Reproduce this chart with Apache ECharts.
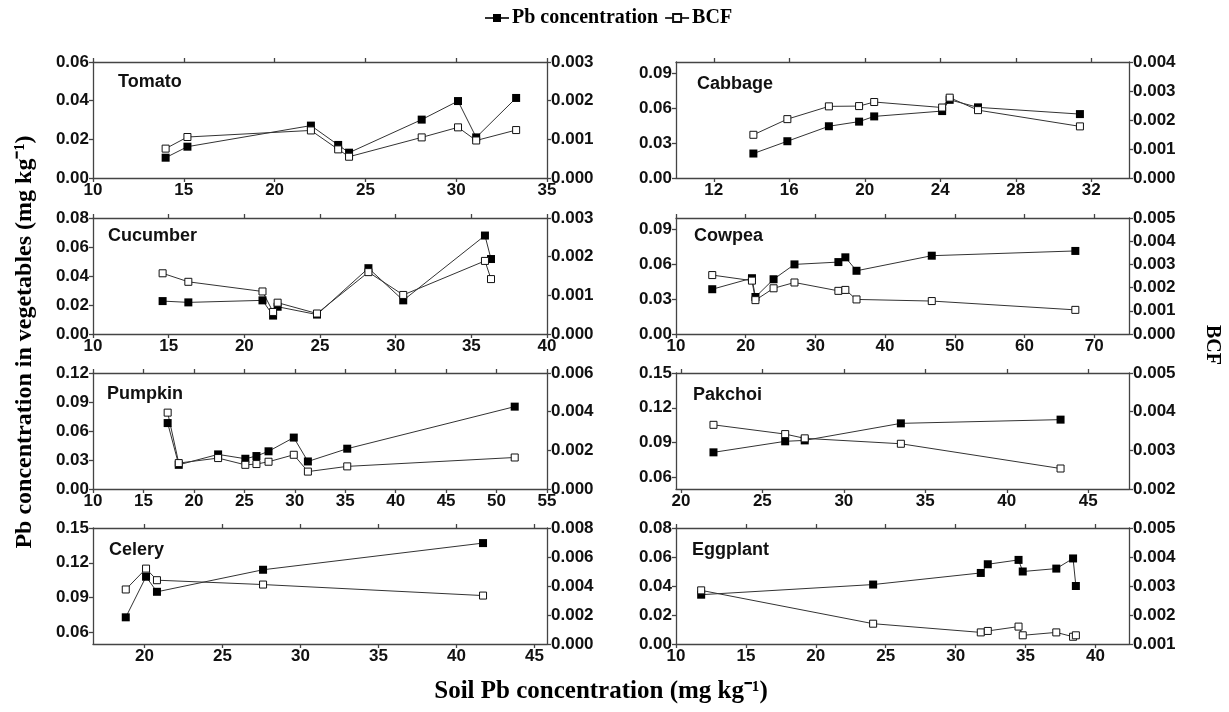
<!DOCTYPE html>
<html>
<head>
<meta charset="utf-8">
<script src="https://cdn.jsdelivr.net/npm/echarts@6/dist/echarts.min.js"></script>
<style>
  html, body { margin: 0; padding: 0; background: #fff; }
  #main { width: 1229px; height: 712px; }
</style>
</head>
<body>
<div id="main"></div>
<script>
// soil Pb (x), Pb in vegetable (left axis), BCF (right axis)
const tomatoSoil = [14.0, 15.2, 22.0, 23.5, 24.1, 28.1, 30.1, 31.1, 33.3];
const tomatoPb = [0.0105, 0.0162, 0.0271, 0.0171, 0.0131, 0.0302, 0.0398, 0.0210, 0.0414];
const tomatoBcf = [0.00076, 0.00106, 0.00123, 0.00074, 0.00055, 0.00105, 0.00131, 0.00097, 0.00124];

const cabbageSoil = [14.1, 15.9, 18.1, 19.7, 20.5, 24.1, 24.5, 26.0, 31.4];
const cabbagePb = [0.0211, 0.0317, 0.0446, 0.0486, 0.0531, 0.0577, 0.0674, 0.0609, 0.0551];
const cabbageBcf = [0.00149, 0.00203, 0.00247, 0.00248, 0.00262, 0.00243, 0.00277, 0.00234, 0.00178];

const cucumberSoil = [14.6, 16.3, 21.2, 21.9, 22.2, 24.8, 28.2, 30.5, 35.9, 36.3];
const cucumberPb = [0.0227, 0.0218, 0.0232, 0.0127, 0.0188, 0.0134, 0.0454, 0.0232, 0.0679, 0.0517];
const cucumberBcf = [0.00157, 0.00135, 0.00110, 0.00057, 0.00081, 0.00053, 0.00160, 0.00101, 0.00189, 0.00142];

const cowpeaSoil = [15.2, 20.9, 21.4, 24.0, 27.0, 33.3, 34.3, 35.9, 46.7, 67.3];
const cowpeaPb = [0.0386, 0.0481, 0.0319, 0.0472, 0.0600, 0.0620, 0.0661, 0.0545, 0.0675, 0.0716];
const cowpeaBcf = [0.00254, 0.00230, 0.00146, 0.00197, 0.00222, 0.00186, 0.00190, 0.00149, 0.00142, 0.00104];

const pumpkinSoil = [17.4, 18.5, 22.4, 25.1, 26.2, 27.4, 29.9, 31.3, 35.2, 51.8];
const pumpkinPb = [0.0682, 0.0250, 0.0358, 0.0313, 0.0341, 0.0390, 0.0532, 0.0285, 0.0417, 0.0852];
const pumpkinBcf = [0.00395, 0.00134, 0.00160, 0.00125, 0.00129, 0.00141, 0.00177, 0.00090, 0.00117, 0.00163];

const pakchoiSoil = [22.0, 26.4, 27.6, 33.5, 43.3];
const pakchoiPb = [0.0816, 0.0911, 0.0919, 0.1066, 0.1098];
const pakchoiBcf = [0.00366, 0.00342, 0.00331, 0.00317, 0.00253];

const celerySoil = [18.8, 20.1, 20.8, 27.6, 41.7];
const celeryPb = [0.073, 0.108, 0.095, 0.114, 0.137];
const celeryBcf = [0.00376, 0.0052, 0.0044, 0.0041, 0.00334];

const eggplantSoil = [11.8, 24.1, 31.8, 32.3, 34.5, 34.8, 37.2, 38.4, 38.6];
const eggplantPb = [0.034, 0.041, 0.049, 0.055, 0.058, 0.050, 0.052, 0.059, 0.040];
const eggplantBcf = [0.00285, 0.0017, 0.0014, 0.00145, 0.0016, 0.0013, 0.0014, 0.00125, 0.0013];

// tick labels
const ticks5from10to35 = [10, 15, 20, 25, 30, 35];
const cabbageXTicks = [12, 16, 20, 24, 28, 32];
const ticks5from10to40 = [10, 15, 20, 25, 30, 35, 40];
const cowpeaXTicks = [10, 20, 30, 40, 50, 60, 70];
const pumpkinXTicks = [10, 15, 20, 25, 30, 35, 40, 45, 50, 55];
const ticks5from20to45 = [20, 25, 30, 35, 40, 45];

const pbTicks006 = [0, 0.02, 0.04, 0.06];
const pbTicks009 = [0, 0.03, 0.06, 0.09];
const pbTicks008 = [0, 0.02, 0.04, 0.06, 0.08];
const pbTicks012 = [0, 0.03, 0.06, 0.09, 0.12];
const pbTicks015 = [0.06, 0.09, 0.12, 0.15];

const bcfTicks003 = [0, 0.001, 0.002, 0.003];
const bcfTicks004 = [0, 0.001, 0.002, 0.003, 0.004];
const bcfTicks005 = [0, 0.001, 0.002, 0.003, 0.004, 0.005];
const bcfTicks006 = [0, 0.002, 0.004, 0.006];
const bcfTicks2to5 = [0.002, 0.003, 0.004, 0.005];
const bcfTicks008 = [0, 0.002, 0.004, 0.006, 0.008];
const bcfTicks1to5 = [0.001, 0.002, 0.003, 0.004, 0.005];

const panels = [
  {name: 'Tomato', soil: tomatoSoil, pb: tomatoPb, bcf: tomatoBcf, col: 0, row: 0,
   x: [10, 35], xt: ticks5from10to35, yl: [0, 0.06], ylt: pbTicks006, yr: [0, 0.003], yrt: bcfTicks003, nx: 25, ny: 20},
  {name: 'Cabbage', soil: cabbageSoil, pb: cabbagePb, bcf: cabbageBcf, col: 1, row: 0,
   x: [10, 34], xt: cabbageXTicks, yl: [0, 0.1], ylt: pbTicks009, yr: [0, 0.004], yrt: bcfTicks004, nx: 21, ny: 22},
  {name: 'Cucumber', soil: cucumberSoil, pb: cucumberPb, bcf: cucumberBcf, col: 0, row: 1,
   x: [10, 40], xt: ticks5from10to40, yl: [0, 0.08], ylt: pbTicks008, yr: [0, 0.003], yrt: bcfTicks003, nx: 15, ny: 18},
  {name: 'Cowpea', soil: cowpeaSoil, pb: cowpeaPb, bcf: cowpeaBcf, col: 1, row: 1,
   x: [10, 75], xt: cowpeaXTicks, yl: [0, 0.1], ylt: pbTicks009, yr: [0, 0.005], yrt: bcfTicks005, nx: 18, ny: 18},
  {name: 'Pumpkin', soil: pumpkinSoil, pb: pumpkinPb, bcf: pumpkinBcf, col: 0, row: 2,
   x: [10, 55], xt: pumpkinXTicks, yl: [0, 0.12], ylt: pbTicks012, yr: [0, 0.006], yrt: bcfTicks006, nx: 14, ny: 21},
  {name: 'Pakchoi', soil: pakchoiSoil, pb: pakchoiPb, bcf: pakchoiBcf, col: 1, row: 2,
   x: [19.7, 47.5], xt: ticks5from20to45, yl: [0.05, 0.15], ylt: pbTicks015, yr: [0.002, 0.005], yrt: bcfTicks2to5, nx: 17, ny: 22},
  {name: 'Celery', soil: celerySoil, pb: celeryPb, bcf: celeryBcf, col: 0, row: 3, narrow: true,
   x: [16.7, 45.8], xt: ticks5from20to45, yl: [0.05, 0.15], ylt: pbTicks015, yr: [0, 0.008], yrt: bcfTicks008, nx: 16, ny: 22},
  {name: 'Eggplant', soil: eggplantSoil, pb: eggplantPb, bcf: eggplantBcf, col: 1, row: 3, narrow: true,
   x: [10, 42.4], xt: ticks5from10to40, yl: [0, 0.08], ylt: pbTicks008, yr: [0.001, 0.005], yrt: bcfTicks1to5, nx: 16, ny: 22}
];

const colLeft = [93, 676];
const colWidth = [454, 453];
const rowTop = [62, 218, 373, 528];
const rowHeight = 116;

const SANS = '"Liberation Sans", Arial, sans-serif';
const NARROW = '"Liberation Sans Narrow", "Arial Narrow", "Liberation Sans", sans-serif';
const SERIF = '"Liberation Serif", "Times New Roman", serif';
const frame = {color: '#444', width: 1.3};

const chart = echarts.init(document.getElementById('main'));
const option = {
  animation: false,
  backgroundColor: '#fff',
  legend: {
    data: ['Pb concentration', 'BCF'],
    left: 479,
    top: 3,
    itemWidth: 24,
    itemHeight: 10,
    itemGap: 6,
    textStyle: {fontFamily: SERIF, fontWeight: 'bold', fontSize: 20, color: '#000', padding: [0, 0, 0, -2]}
  },
  grid: [],
  xAxis: [],
  yAxis: [],
  series: [],
  graphic: [
    {type: 'text', x: 25, y: 342, rotation: Math.PI / 2,
     style: {text: 'Pb concentration in vegetables (mg kg\u207B\u00B9)', align: 'center', verticalAlign: 'middle',
             font: 'bold 24px ' + SERIF, fill: '#000'}},
    {type: 'text', x: 1212, y: 345, rotation: -Math.PI / 2,
     style: {text: 'BCF', align: 'center', verticalAlign: 'middle', font: 'bold 20px ' + SERIF, fill: '#000'}},
    {type: 'text', x: 601, y: 692,
     style: {text: 'Soil Pb concentration (mg kg\u207B\u00B9)', align: 'center', verticalAlign: 'middle',
             font: 'bold 25px ' + SERIF, fill: '#000'}}
  ]
};

panels.forEach((p, i) => {
  const left = colLeft[p.col];
  const top = rowTop[p.row];
  const fam = p.narrow ? NARROW : SANS;
  const lbl = {fontFamily: fam, fontWeight: 'bold', fontSize: 17, color: '#111'};

  option.grid.push({left: left, top: top, width: colWidth[p.col], height: rowHeight});

  option.xAxis.push({
    gridIndex: i, type: 'value', position: 'bottom', min: p.x[0], max: p.x[1],
    axisLine: {onZero: false, lineStyle: frame},
    axisTick: {customValues: p.xt, length: 4, lineStyle: frame},
    axisLabel: Object.assign({customValues: p.xt, margin: 4}, lbl),
    splitLine: {show: false}
  });
  option.xAxis.push({
    gridIndex: i, type: 'value', position: 'top', min: p.x[0], max: p.x[1],
    axisLine: {onZero: false, lineStyle: frame},
    axisTick: {customValues: p.xt, length: 4, lineStyle: frame},
    axisLabel: {show: false},
    splitLine: {show: false}
  });
  option.yAxis.push({
    gridIndex: i, type: 'value', position: 'left', min: p.yl[0], max: p.yl[1],
    axisLine: {show: true, onZero: false, lineStyle: frame},
    axisTick: {show: true, customValues: p.ylt, length: 4, lineStyle: frame},
    axisLabel: Object.assign({customValues: p.ylt, margin: 4, formatter: v => v.toFixed(2)}, lbl),
    splitLine: {show: false}
  });
  option.yAxis.push({
    gridIndex: i, type: 'value', position: 'right', min: p.yr[0], max: p.yr[1],
    axisLine: {show: true, onZero: false, lineStyle: frame},
    axisTick: {show: true, customValues: p.yrt, length: 4, lineStyle: frame},
    axisLabel: Object.assign({customValues: p.yrt, margin: 4, formatter: v => v.toFixed(3)}, lbl),
    splitLine: {show: false}
  });

  option.series.push({
    name: 'Pb concentration', type: 'line', xAxisIndex: 2 * i, yAxisIndex: 2 * i,
    data: p.soil.map((s, k) => [s, p.pb[k]]),
    symbol: 'rect', symbolSize: 8,
    lineStyle: {color: '#333', width: 1},
    itemStyle: {color: '#000'}
  });
  option.series.push({
    name: 'BCF', type: 'line', xAxisIndex: 2 * i, yAxisIndex: 2 * i + 1,
    data: p.soil.map((s, k) => [s, p.bcf[k]]),
    symbol: 'rect', symbolSize: 7,
    lineStyle: {color: '#333', width: 1},
    itemStyle: {color: '#fff', borderColor: '#111', borderWidth: 1}
  });

  option.graphic.push({
    type: 'text', x: left + p.nx, y: top + p.ny,
    style: {text: p.name, verticalAlign: 'middle', font: 'bold 18px ' + fam, fill: '#111'}
  });
});

chart.setOption(option);
</script>
</body>
</html>
